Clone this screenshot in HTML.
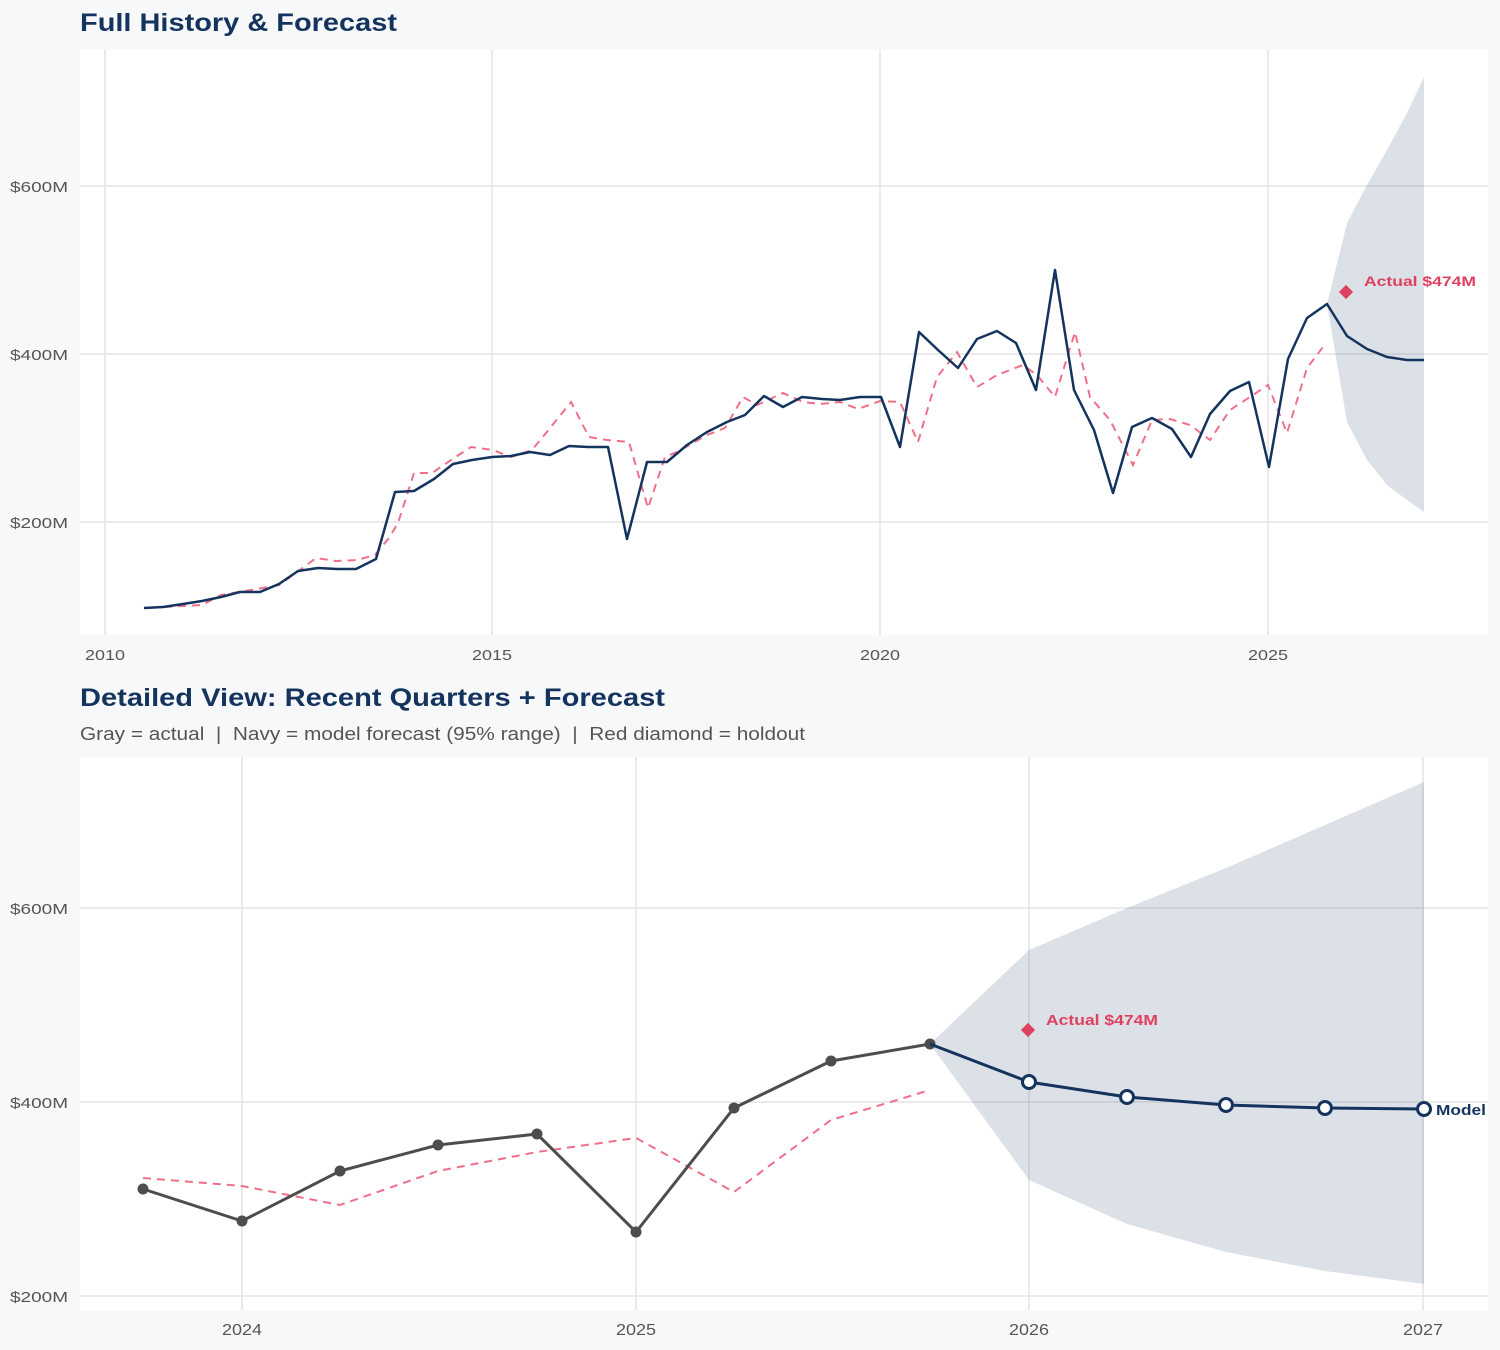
<!DOCTYPE html>
<html><head><meta charset="utf-8"><style>
html,body{margin:0;padding:0;background:#f7f8fa;}
svg{display:block;font-family:"Liberation Sans",sans-serif;}
</style></head><body>
<svg width="1500" height="1350" viewBox="0 0 1500 1350">
<rect width="1500" height="1350" fill="#f7f8fa"/>
<text x="80" y="31" font-size="25" font-weight="bold" fill="#14345e" textLength="317" lengthAdjust="spacingAndGlyphs">Full History &amp; Forecast</text>
<rect x="80" y="50" width="1408" height="585" fill="#fff"/>
<g stroke="#e4e4e4" stroke-width="1.5">
<line x1="105" y1="50" x2="105" y2="635"/><line x1="492" y1="50" x2="492" y2="635"/><line x1="880" y1="50" x2="880" y2="635"/><line x1="1268" y1="50" x2="1268" y2="635"/>
<line x1="80" y1="186" x2="1488" y2="186"/><line x1="80" y1="354" x2="1488" y2="354"/><line x1="80" y1="522" x2="1488" y2="522"/>
</g>
<g font-size="15" fill="#555">
<text x="10" y="192" textLength="58" lengthAdjust="spacingAndGlyphs">$600M</text><text x="10" y="360" textLength="58" lengthAdjust="spacingAndGlyphs">$400M</text><text x="10" y="528" textLength="58" lengthAdjust="spacingAndGlyphs">$200M</text>
</g>
<g font-size="15" fill="#555">
<text x="85" y="660" textLength="40" lengthAdjust="spacingAndGlyphs">2010</text><text x="472" y="660" textLength="40" lengthAdjust="spacingAndGlyphs">2015</text><text x="860" y="660" textLength="40" lengthAdjust="spacingAndGlyphs">2020</text><text x="1248" y="660" textLength="40" lengthAdjust="spacingAndGlyphs">2025</text>
</g>
<polygon fill="#14345e" fill-opacity="0.15" points="1327,304 1347,223 1367,185 1387,150 1407,113 1424,77 1424,512 1407,500 1387,485 1367,460 1347,422"/>
<polyline fill="none" stroke="#ef7088" stroke-width="2" stroke-dasharray="8,6" points="164,607 202,605 221,595 257,589 279,585 300,570 316,558 336,561 357,560 375,555 389,538 398,523 414,473 432,473 454,458 471,447 493,450 511,457 532,450 546,433 571,402 589,437 607,440 629,442 648,508 665,457 677,452 707,435 725,428 743,397 757,405 783,393 803,402 820,404 840,402 858,409 880,401 900,402 918,442 937,377 957,352 977,387 997,375 1023,365 1037,375 1055,397 1075,332 1090,397 1110,420 1133,465 1152,420 1170,419 1190,425 1210,440 1230,410 1250,397 1268,385 1287,433 1307,368 1323,347"/>
<polyline fill="none" stroke="#14345e" stroke-width="2.5" stroke-linejoin="round" points="144,608 163,607 183,604 202,601 221,597 240,592 260,592 279,584 298,571 318,568 337,569 356,569 376,559 395,492 414,491 434,479 453,464 472,460 492,457 511,456 530,452 550,455 569,446 588,447 608,447 627,539 647,462 667,462 687,445 707,432 727,422 745,415 764,396 783,407 802,397 822,399 840,400 860,397 881,397 900,447 919,332 938,350 958,368 977,339 997,331 1016,343 1036,390 1055,270 1074,390 1094,430 1113,493 1132,427 1152,418 1172,429 1191,457 1210,414 1230,391 1249,382 1269,467 1288,359 1307,318 1327,304 1347,336 1367,349 1387,357 1407,360 1424,360"/>
<rect x="1341" y="287" width="10" height="10" fill="#e0405f" transform="rotate(45 1346 292)"/>
<text x="1364" y="286" font-size="14" font-weight="bold" fill="#e0405f" textLength="112" lengthAdjust="spacingAndGlyphs">Actual $474M</text>

<text x="80" y="706" font-size="25" font-weight="bold" fill="#14345e" textLength="585" lengthAdjust="spacingAndGlyphs">Detailed View: Recent Quarters + Forecast</text>
<text x="80" y="740" font-size="18" fill="#555" textLength="725" lengthAdjust="spacingAndGlyphs" xml:space="preserve">Gray = actual  |  Navy = model forecast (95% range)  |  Red diamond = holdout</text>
<rect x="80" y="757" width="1408" height="553" fill="#fff"/>
<g stroke="#e4e4e4" stroke-width="1.5">
<line x1="242" y1="757" x2="242" y2="1310"/><line x1="636" y1="757" x2="636" y2="1310"/><line x1="1029" y1="757" x2="1029" y2="1310"/><line x1="1423" y1="757" x2="1423" y2="1310"/>
<line x1="80" y1="908" x2="1488" y2="908"/><line x1="80" y1="1102" x2="1488" y2="1102"/><line x1="80" y1="1296" x2="1488" y2="1296"/>
</g>
<g font-size="15" fill="#555">
<text x="10" y="914" textLength="58" lengthAdjust="spacingAndGlyphs">$600M</text><text x="10" y="1108" textLength="58" lengthAdjust="spacingAndGlyphs">$400M</text><text x="10" y="1302" textLength="58" lengthAdjust="spacingAndGlyphs">$200M</text>
</g>
<g font-size="16" fill="#555">
<text x="222" y="1335" textLength="40" lengthAdjust="spacingAndGlyphs">2024</text><text x="616" y="1335" textLength="40" lengthAdjust="spacingAndGlyphs">2025</text><text x="1009" y="1335" textLength="40" lengthAdjust="spacingAndGlyphs">2026</text><text x="1403" y="1335" textLength="40" lengthAdjust="spacingAndGlyphs">2027</text>
</g>
<polygon fill="#14345e" fill-opacity="0.15" points="930,1044 1029,950 1127,908 1226,868 1325,825 1424,782 1424,1284 1325,1271 1226,1252 1127,1224 1029,1180"/>
<polyline fill="none" stroke="#ef7088" stroke-width="2" stroke-dasharray="8,6" points="143,1178 242,1186 340,1205 438,1171 537,1152 636,1138 734,1192 831,1120 930,1090"/>
<polyline fill="none" stroke="#4d4d4d" stroke-width="3" points="143,1189 242,1221 340,1171 438,1145 537,1134 636,1232 734,1108 831,1061 930,1044"/>
<g fill="#4d4d4d">
<circle cx="143" cy="1189" r="5.5"/><circle cx="242" cy="1221" r="5.5"/><circle cx="340" cy="1171" r="5.5"/><circle cx="438" cy="1145" r="5.5"/><circle cx="537" cy="1134" r="5.5"/><circle cx="636" cy="1232" r="5.5"/><circle cx="734" cy="1108" r="5.5"/><circle cx="831" cy="1061" r="5.5"/><circle cx="930" cy="1044" r="5.5"/>
</g>
<polyline fill="none" stroke="#14345e" stroke-width="3" points="930,1044 1029,1082 1127,1097 1226,1105 1325,1108 1424,1109"/>
<g fill="#fff" stroke="#14345e" stroke-width="3">
<circle cx="1029" cy="1082" r="6.5"/><circle cx="1127" cy="1097" r="6.5"/><circle cx="1226" cy="1105" r="6.5"/><circle cx="1325" cy="1108" r="6.5"/><circle cx="1424" cy="1109" r="6.5"/>
</g>
<rect x="1023" y="1025" width="10" height="10" fill="#e0405f" transform="rotate(45 1028 1030)"/>
<text x="1046" y="1025" font-size="15" font-weight="bold" fill="#e0405f" textLength="112" lengthAdjust="spacingAndGlyphs">Actual $474M</text>
<text x="1436" y="1115" font-size="15" font-weight="bold" fill="#14345e" textLength="50" lengthAdjust="spacingAndGlyphs">Model</text>
</svg>
</body></html>
